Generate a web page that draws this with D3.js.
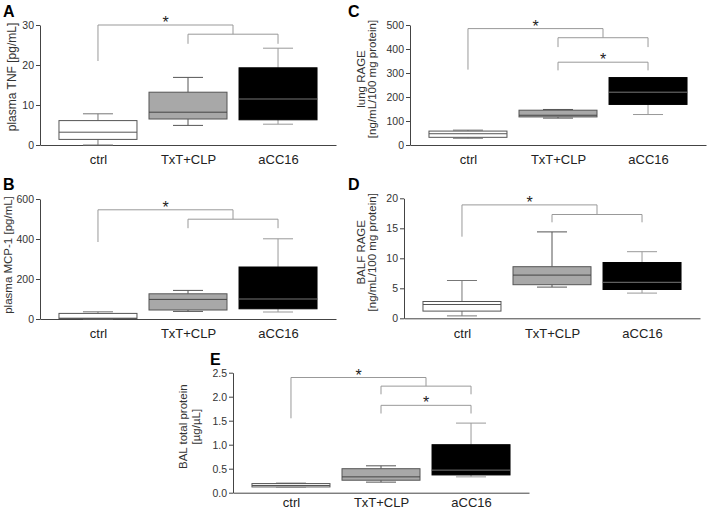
<!DOCTYPE html>
<html>
<head>
<meta charset="utf-8">
<script src="https://cdn.jsdelivr.net/npm/d3@7"></script>
<style>
  body { margin: 0; background: #fff; }
  svg text { font-family: Arial, "Liberation Sans", sans-serif; }
</style>
</head>
<body>
<div id="chart-container"></div>
<script>
const groups = ["ctrl", "TxT+CLP", "aCC16"];

// per group: [min, q1, median, q3, max]
const tnfStats = [[0, 1.4, 3.2, 6.1, 7.8], [4.9, 6.5, 8.2, 13.2, 16.9], [5.2, 6.3, 11.5, 19.3, 24.2]];
const mcpStats = [[0, 2, 4, 28, 36], [38, 45, 98, 126, 143], [35, 51, 100, 260, 401]];
const lungRageStats = [[28, 32, 47, 58, 62], [112, 117, 124, 145, 148], [127, 169, 220, 281, 281]];
const balfRageStats = [[0.4, 1.2, 2.3, 2.8, 6.3], [5.2, 5.6, 7.2, 8.6, 14.4], [4.2, 4.8, 6.0, 9.3, 11.1]];
const proteinStats = [[0.12, 0.12, 0.15, 0.19, 0.2], [0.22, 0.26, 0.33, 0.5, 0.56], [0.33, 0.37, 0.47, 1.0, 1.45]];

const tnfTicks = [0, 10, 20, 30];
const mcpTicks = [0, 200, 400, 600];
const lungRageTicks = [0, 100, 200, 300, 400, 500];
const balfRageTicks = [0, 5, 10, 15, 20];
const proteinTicks = [0, 0.5, 1.0, 1.5, 2.0, 2.5];

// brackets: [from group idx, to group idx, top, left leg end, right leg end, star]
const tnfBrackets = [[0, 1.5, 30, 21, 27.7, true], [1, 2, 27.7, 25.3, 25.3, false]];
const mcpBrackets = [[0, 1.5, 546, 385, 499, true], [1, 2, 499, 454, 454, false]];
const lungRageBrackets = [[0, 1.5, 485, 314, 447, true], [1, 2, 447, 408, 408, false], [1, 2, 345, 311, 311, true]];
const balfRageBrackets = [[0, 1.5, 18.9, 13.6, 17.3, true], [1, 2, 17.3, 16.0, 16.0, false]];
const proteinBrackets = [[0, 1.5, 2.4, 1.55, 2.22, true], [1, 2, 2.22, 2.05, 2.05, false], [1, 2, 1.82, 1.65, 1.65, true]];

const tnfTitle = ["plasma TNF [pg/mL]"];
const mcpTitle = ["plasma MCP-1 [pg/mL]"];
const lungRageTitle = ["lung RAGE", "[ng/mL/100 mg protein]"];
const balfRageTitle = ["BALF RAGE", "[ng/mL/100 mg protein]"];
const proteinTitle = ["BAL total protein", "[µg/µL]"];

const boxFill = ["#ffffff", "#a8a8a8", "#000000"];
const boxStroke = ["#555", "#555", "#000"];
const medianStroke = ["#555", "#444", "#777"];
const whiskerStroke = ["#777", "#555", "#999"];

const svg = d3.select("#chart-container")
  .append("svg")
    .attr("width", 708)
    .attr("height", 513);

function drawPanel(p) {
  const g = svg.append("g");

  const x = d3.scalePoint()
    .domain(groups)
    .range([p.x0, p.x0 + 296])
    .padding(0.644);
  const xi = i => x(groups[0]) + i * x.step();

  const y = d3.scaleLinear()
    .domain([0, p.ticks[p.ticks.length - 1]])
    .range([p.y0, p.y0 - 120]);

  // axes
  const ya = g.append("g")
    .attr("transform", "translate(" + p.x0 + ",0)")
    .call(d3.axisLeft(y).tickValues(p.ticks).tickSize(4).tickSizeOuter(0).tickPadding(2)
      .tickFormat(p.fmt || d3.format("d")));
  ya.selectAll("text").style("font-size", "10.5px").attr("fill", "#333");

  const xa = g.append("g")
    .attr("transform", "translate(0," + p.y0 + ")")
    .call(d3.axisBottom(x).tickSize(0).tickSizeOuter(0).tickPadding(p.labelPad || 10));
  xa.selectAll("text").style("font-size", "13px").attr("fill", "#222");

  g.selectAll(".domain, .tick line").attr("stroke", "#444");

  // boxes
  const data = p.stats.map((s, i) => ({ i: i, min: s[0], q1: s[1], med: s[2], q3: s[3], max: s[4] }));
  const bw = 78, cw = 30;
  const box = g.selectAll(".box").data(data).enter().append("g");

  box.append("line")
    .attr("x1", d => x(groups[d.i])).attr("x2", d => x(groups[d.i]))
    .attr("y1", d => y(d.q3)).attr("y2", d => y(d.max))
    .attr("stroke", d => whiskerStroke[d.i]);
  box.append("line")
    .attr("x1", d => x(groups[d.i])).attr("x2", d => x(groups[d.i]))
    .attr("y1", d => y(d.q1)).attr("y2", d => y(d.min))
    .attr("stroke", d => whiskerStroke[d.i]);
  box.append("line")
    .attr("x1", d => x(groups[d.i]) - cw / 2).attr("x2", d => x(groups[d.i]) + cw / 2)
    .attr("y1", d => y(d.max)).attr("y2", d => y(d.max))
    .attr("stroke", d => whiskerStroke[d.i]);
  box.append("line")
    .attr("x1", d => x(groups[d.i]) - cw / 2).attr("x2", d => x(groups[d.i]) + cw / 2)
    .attr("y1", d => y(d.min)).attr("y2", d => y(d.min))
    .attr("stroke", d => whiskerStroke[d.i]);

  box.append("rect")
    .attr("x", d => x(groups[d.i]) - bw / 2)
    .attr("width", bw)
    .attr("y", d => y(d.q3))
    .attr("height", d => Math.max(1, y(d.q1) - y(d.q3)))
    .attr("fill", d => boxFill[d.i])
    .attr("stroke", d => boxStroke[d.i]);

  box.append("line")
    .attr("x1", d => x(groups[d.i]) - bw / 2).attr("x2", d => x(groups[d.i]) + bw / 2)
    .attr("y1", d => y(d.med)).attr("y2", d => y(d.med))
    .attr("stroke", d => medianStroke[d.i]);

  // significance brackets
  p.brackets.forEach(function(b) {
    const xl = xi(b[0]), xr = xi(b[1]);
    g.append("path")
      .attr("d", "M" + xl + "," + y(b[3]) + "V" + y(b[2]) + "H" + xr + "V" + y(b[4]))
      .attr("fill", "none")
      .attr("stroke", "#999");
    if (b[5]) {
      g.append("text")
        .attr("x", (xl + xr) / 2)
        .attr("y", y(b[2]) + 3)
        .attr("text-anchor", "middle")
        .style("font-size", "16px")
        .attr("fill", "#222")
        .text("*");
    }
  });

  // y title
  const cy = p.y0 - 60 - (p.titleShift || 6);
  p.title.forEach(function(t, k) {
    g.append("text")
      .attr("transform", "translate(" + p.titleX[k] + "," + cy + ") rotate(-90)")
      .attr("text-anchor", "middle")
      .style("font-size", p.titleSize || "11.5px")
      .attr("fill", "#333")
      .text(t);
  });

  // panel letter
  g.append("text")
    .attr("x", p.lx).attr("y", p.ly)
    .style("font-size", "16px")
    .style("font-weight", "bold")
    .attr("fill", "#000")
    .text(p.letter);
}

drawPanel({ letter: "A", lx: 3, ly: 17, x0: 40, y0: 145, stats: tnfStats, ticks: tnfTicks, brackets: tnfBrackets, title: tnfTitle, titleX: [15.5], titleSize: "12px", titleShift: 8 });
drawPanel({ letter: "B", lx: 3, ly: 190, x0: 40, y0: 319, stats: mcpStats, ticks: mcpTicks, brackets: mcpBrackets, title: mcpTitle, titleX: [12], titleSize: "11.5px", titleShift: 4 });
drawPanel({ letter: "C", lx: 348, ly: 17, x0: 410, y0: 145, stats: lungRageStats, ticks: lungRageTicks, brackets: lungRageBrackets, title: lungRageTitle, titleX: [365, 376] });
drawPanel({ letter: "D", lx: 348, ly: 190, x0: 404, y0: 318.3, stats: balfRageStats, ticks: balfRageTicks, brackets: balfRageBrackets, title: balfRageTitle, titleX: [365, 376] });
drawPanel({ letter: "E", lx: 210, ly: 365, x0: 233, y0: 492.7, stats: proteinStats, ticks: proteinTicks, brackets: proteinBrackets, title: proteinTitle, titleX: [187.4, 200.4], fmt: d3.format(".1f"), labelPad: 5 });
</script>
</body>
</html>
